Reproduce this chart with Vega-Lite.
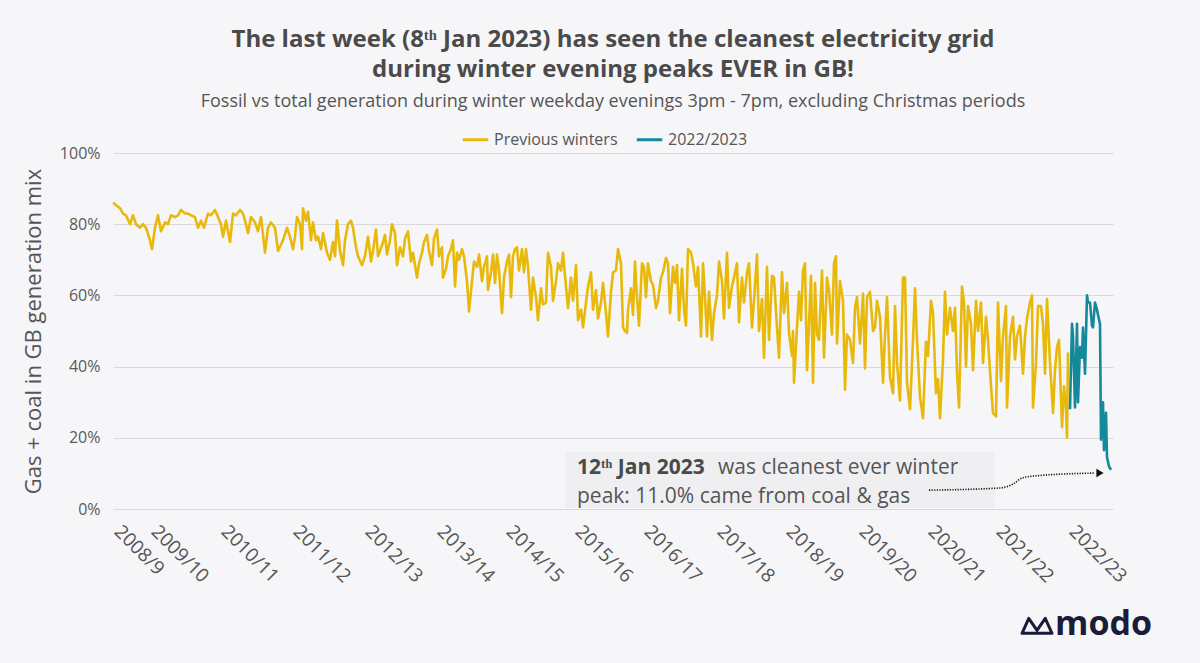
{
  "$schema": "https://vega.github.io/schema/vega-lite/v6.json",
  "width": 1000,
  "height": 356,
  "autosize": "none",
  "padding": {"left": 113, "top": 153, "right": 87, "bottom": 154},
  "background": "#f6f6f8",
  "title": {
    "text": ["The last week (8ᵗʰ Jan 2023) has seen the cleanest electricity grid", "during winter evening peaks EVER in GB!"],
    "subtitle": "Fossil vs total generation during winter weekday evenings 3pm - 7pm, excluding Christmas periods",
    "anchor": "middle",
    "font": "Open Sans",
    "fontSize": 24,
    "fontWeight": "bold",
    "color": "#4a4a4a",
    "lineHeight": 30,
    "subtitleFont": "Open Sans",
    "subtitleFontSize": 18,
    "subtitleColor": "#555555",
    "subtitlePadding": 11,
    "offset": 14
  },
  "datasets": {
    "gen": [
      {"d": 0, "v": 86, "s": "Previous winters"}, {"d": 7, "v": 84.5, "s": "Previous winters"}, {"d": 10, "v": 83, "s": "Previous winters"},
      {"d": 13, "v": 82.5, "s": "Previous winters"}, {"d": 17, "v": 80, "s": "Previous winters"}, {"d": 20, "v": 82.5, "s": "Previous winters"},
      {"d": 23, "v": 80, "s": "Previous winters"}, {"d": 27, "v": 79, "s": "Previous winters"}, {"d": 30, "v": 80, "s": "Previous winters"},
      {"d": 33, "v": 79, "s": "Previous winters"}, {"d": 37, "v": 75.5, "s": "Previous winters"}, {"d": 39, "v": 73, "s": "Previous winters"},
      {"d": 42, "v": 79, "s": "Previous winters"}, {"d": 45, "v": 82.5, "s": "Previous winters"}, {"d": 48, "v": 78, "s": "Previous winters"},
      {"d": 52, "v": 80.5, "s": "Previous winters"}, {"d": 55, "v": 80, "s": "Previous winters"}, {"d": 58, "v": 82.5, "s": "Previous winters"},
      {"d": 62, "v": 82, "s": "Previous winters"}, {"d": 65, "v": 82.5, "s": "Previous winters"}, {"d": 68, "v": 84, "s": "Previous winters"},
      {"d": 72, "v": 83, "s": "Previous winters"}, {"d": 75, "v": 83, "s": "Previous winters"}, {"d": 78, "v": 82.5, "s": "Previous winters"},
      {"d": 82, "v": 82, "s": "Previous winters"}, {"d": 85, "v": 79, "s": "Previous winters"}, {"d": 88, "v": 81, "s": "Previous winters"},
      {"d": 91, "v": 79, "s": "Previous winters"}, {"d": 95, "v": 83, "s": "Previous winters"}, {"d": 98, "v": 82.5, "s": "Previous winters"},
      {"d": 102, "v": 84, "s": "Previous winters"}, {"d": 105, "v": 82, "s": "Previous winters"}, {"d": 108, "v": 80, "s": "Previous winters"},
      {"d": 110, "v": 76.5, "s": "Previous winters"}, {"d": 113, "v": 81, "s": "Previous winters"}, {"d": 117, "v": 75, "s": "Previous winters"},
      {"d": 120, "v": 83, "s": "Previous winters"}, {"d": 123, "v": 82.5, "s": "Previous winters"}, {"d": 127, "v": 84, "s": "Previous winters"},
      {"d": 130, "v": 83, "s": "Previous winters"}, {"d": 133, "v": 80, "s": "Previous winters"}, {"d": 135, "v": 77.5, "s": "Previous winters"},
      {"d": 138, "v": 82, "s": "Previous winters"}, {"d": 142, "v": 80.5, "s": "Previous winters"}, {"d": 145, "v": 78, "s": "Previous winters"},
      {"d": 148, "v": 82, "s": "Previous winters"}, {"d": 152, "v": 72, "s": "Previous winters"}, {"d": 155, "v": 79, "s": "Previous winters"},
      {"d": 158, "v": 80.5, "s": "Previous winters"}, {"d": 162, "v": 79, "s": "Previous winters"}, {"d": 165, "v": 72.5, "s": "Previous winters"},
      {"d": 170, "v": 75.5, "s": "Previous winters"}, {"d": 174, "v": 79, "s": "Previous winters"}, {"d": 177, "v": 76.5, "s": "Previous winters"},
      {"d": 180, "v": 73, "s": "Previous winters"}, {"d": 182, "v": 76.5, "s": "Previous winters"}, {"d": 184, "v": 82, "s": "Previous winters"},
      {"d": 187, "v": 80, "s": "Previous winters"}, {"d": 189, "v": 73, "s": "Previous winters"}, {"d": 190, "v": 84.5, "s": "Previous winters"},
      {"d": 193, "v": 81, "s": "Previous winters"}, {"d": 195, "v": 83.5, "s": "Previous winters"}, {"d": 198, "v": 75.5, "s": "Previous winters"},
      {"d": 200, "v": 80.5, "s": "Previous winters"}, {"d": 203, "v": 75.5, "s": "Previous winters"}, {"d": 205, "v": 76.5, "s": "Previous winters"},
      {"d": 208, "v": 73, "s": "Previous winters"}, {"d": 210, "v": 77.5, "s": "Previous winters"}, {"d": 214, "v": 72, "s": "Previous winters"},
      {"d": 217, "v": 70, "s": "Previous winters"}, {"d": 220, "v": 75, "s": "Previous winters"}, {"d": 222, "v": 71, "s": "Previous winters"},
      {"d": 224, "v": 81, "s": "Previous winters"}, {"d": 227, "v": 72.5, "s": "Previous winters"}, {"d": 230, "v": 68.5, "s": "Previous winters"},
      {"d": 232, "v": 75.5, "s": "Previous winters"}, {"d": 235, "v": 80, "s": "Previous winters"}, {"d": 238, "v": 81, "s": "Previous winters"},
      {"d": 240, "v": 79, "s": "Previous winters"}, {"d": 243, "v": 73.5, "s": "Previous winters"}, {"d": 245, "v": 71, "s": "Previous winters"},
      {"d": 249, "v": 68.5, "s": "Previous winters"}, {"d": 252, "v": 71, "s": "Previous winters"}, {"d": 255, "v": 76.5, "s": "Previous winters"},
      {"d": 258, "v": 69.5, "s": "Previous winters"}, {"d": 260, "v": 72.5, "s": "Previous winters"}, {"d": 263, "v": 78.5, "s": "Previous winters"},
      {"d": 265, "v": 71, "s": "Previous winters"}, {"d": 269, "v": 74, "s": "Previous winters"}, {"d": 272, "v": 77, "s": "Previous winters"},
      {"d": 274, "v": 71.5, "s": "Previous winters"}, {"d": 277, "v": 75.5, "s": "Previous winters"}, {"d": 279, "v": 80, "s": "Previous winters"},
      {"d": 282, "v": 77.5, "s": "Previous winters"}, {"d": 284, "v": 68.5, "s": "Previous winters"}, {"d": 287, "v": 73.5, "s": "Previous winters"},
      {"d": 290, "v": 71, "s": "Previous winters"}, {"d": 292, "v": 76, "s": "Previous winters"}, {"d": 295, "v": 78, "s": "Previous winters"},
      {"d": 298, "v": 69.5, "s": "Previous winters"}, {"d": 300, "v": 72, "s": "Previous winters"}, {"d": 304, "v": 65, "s": "Previous winters"},
      {"d": 306, "v": 69, "s": "Previous winters"}, {"d": 309, "v": 72, "s": "Previous winters"}, {"d": 311, "v": 75, "s": "Previous winters"},
      {"d": 314, "v": 77, "s": "Previous winters"}, {"d": 316, "v": 72.5, "s": "Previous winters"}, {"d": 319, "v": 68.5, "s": "Previous winters"},
      {"d": 321, "v": 76, "s": "Previous winters"}, {"d": 324, "v": 78.5, "s": "Previous winters"}, {"d": 326, "v": 71, "s": "Previous winters"},
      {"d": 329, "v": 73.5, "s": "Previous winters"}, {"d": 330, "v": 65, "s": "Previous winters"}, {"d": 333, "v": 67.5, "s": "Previous winters"},
      {"d": 335, "v": 71, "s": "Previous winters"}, {"d": 338, "v": 73, "s": "Previous winters"}, {"d": 340, "v": 75.5, "s": "Previous winters"},
      {"d": 342, "v": 62.5, "s": "Previous winters"}, {"d": 344, "v": 72, "s": "Previous winters"}, {"d": 346, "v": 70, "s": "Previous winters"},
      {"d": 349, "v": 73, "s": "Previous winters"}, {"d": 351, "v": 71, "s": "Previous winters"}, {"d": 354, "v": 64, "s": "Previous winters"},
      {"d": 356, "v": 55.5, "s": "Previous winters"}, {"d": 359, "v": 64, "s": "Previous winters"}, {"d": 361, "v": 69.5, "s": "Previous winters"},
      {"d": 364, "v": 68, "s": "Previous winters"}, {"d": 366, "v": 71.5, "s": "Previous winters"}, {"d": 369, "v": 64, "s": "Previous winters"},
      {"d": 371, "v": 68, "s": "Previous winters"}, {"d": 374, "v": 71, "s": "Previous winters"}, {"d": 375, "v": 61.5, "s": "Previous winters"},
      {"d": 378, "v": 66.5, "s": "Previous winters"}, {"d": 380, "v": 71.5, "s": "Previous winters"}, {"d": 382, "v": 63.5, "s": "Previous winters"},
      {"d": 384, "v": 71.5, "s": "Previous winters"}, {"d": 386, "v": 67, "s": "Previous winters"}, {"d": 389, "v": 55, "s": "Previous winters"},
      {"d": 391, "v": 65, "s": "Previous winters"}, {"d": 394, "v": 69.5, "s": "Previous winters"}, {"d": 396, "v": 71.5, "s": "Previous winters"},
      {"d": 398, "v": 59.5, "s": "Previous winters"}, {"d": 400, "v": 71, "s": "Previous winters"}, {"d": 402, "v": 73, "s": "Previous winters"},
      {"d": 404, "v": 73.5, "s": "Previous winters"}, {"d": 406, "v": 67, "s": "Previous winters"}, {"d": 409, "v": 73, "s": "Previous winters"},
      {"d": 411, "v": 66.5, "s": "Previous winters"}, {"d": 413, "v": 73, "s": "Previous winters"}, {"d": 415, "v": 68, "s": "Previous winters"},
      {"d": 418, "v": 56, "s": "Previous winters"}, {"d": 420, "v": 65, "s": "Previous winters"}, {"d": 423, "v": 59.5, "s": "Previous winters"},
      {"d": 425, "v": 53, "s": "Previous winters"}, {"d": 428, "v": 62, "s": "Previous winters"}, {"d": 430, "v": 57.5, "s": "Previous winters"},
      {"d": 433, "v": 58, "s": "Previous winters"}, {"d": 435, "v": 72, "s": "Previous winters"}, {"d": 438, "v": 68, "s": "Previous winters"},
      {"d": 440, "v": 58.5, "s": "Previous winters"}, {"d": 443, "v": 64, "s": "Previous winters"}, {"d": 445, "v": 69, "s": "Previous winters"},
      {"d": 448, "v": 67, "s": "Previous winters"}, {"d": 450, "v": 72, "s": "Previous winters"}, {"d": 453, "v": 62.5, "s": "Previous winters"},
      {"d": 455, "v": 56.5, "s": "Previous winters"}, {"d": 458, "v": 65, "s": "Previous winters"}, {"d": 460, "v": 58.5, "s": "Previous winters"},
      {"d": 463, "v": 68.5, "s": "Previous winters"}, {"d": 465, "v": 53, "s": "Previous winters"}, {"d": 468, "v": 56, "s": "Previous winters"},
      {"d": 470, "v": 51, "s": "Previous winters"}, {"d": 473, "v": 58, "s": "Previous winters"}, {"d": 475, "v": 62.5, "s": "Previous winters"},
      {"d": 478, "v": 66.5, "s": "Previous winters"}, {"d": 480, "v": 56, "s": "Previous winters"}, {"d": 483, "v": 61.5, "s": "Previous winters"},
      {"d": 485, "v": 53.5, "s": "Previous winters"}, {"d": 488, "v": 58, "s": "Previous winters"}, {"d": 490, "v": 63.5, "s": "Previous winters"},
      {"d": 493, "v": 55, "s": "Previous winters"}, {"d": 495, "v": 48.5, "s": "Previous winters"}, {"d": 498, "v": 61, "s": "Previous winters"},
      {"d": 500, "v": 66.5, "s": "Previous winters"}, {"d": 503, "v": 67, "s": "Previous winters"}, {"d": 505, "v": 73, "s": "Previous winters"},
      {"d": 508, "v": 69, "s": "Previous winters"}, {"d": 510, "v": 51, "s": "Previous winters"}, {"d": 512, "v": 50, "s": "Previous winters"},
      {"d": 514, "v": 49.5, "s": "Previous winters"}, {"d": 515, "v": 56, "s": "Previous winters"}, {"d": 518, "v": 62, "s": "Previous winters"},
      {"d": 520, "v": 54.5, "s": "Previous winters"}, {"d": 522, "v": 69.5, "s": "Previous winters"}, {"d": 524, "v": 59.5, "s": "Previous winters"},
      {"d": 526, "v": 51.5, "s": "Previous winters"}, {"d": 529, "v": 69, "s": "Previous winters"}, {"d": 531, "v": 68, "s": "Previous winters"},
      {"d": 533, "v": 59.5, "s": "Previous winters"}, {"d": 535, "v": 69, "s": "Previous winters"}, {"d": 538, "v": 64, "s": "Previous winters"},
      {"d": 540, "v": 63, "s": "Previous winters"}, {"d": 543, "v": 56.5, "s": "Previous winters"}, {"d": 545, "v": 58.5, "s": "Previous winters"},
      {"d": 548, "v": 65, "s": "Previous winters"}, {"d": 550, "v": 66.5, "s": "Previous winters"}, {"d": 553, "v": 70.5, "s": "Previous winters"},
      {"d": 555, "v": 69, "s": "Previous winters"}, {"d": 557, "v": 55, "s": "Previous winters"}, {"d": 560, "v": 68, "s": "Previous winters"},
      {"d": 562, "v": 63.5, "s": "Previous winters"}, {"d": 564, "v": 68.5, "s": "Previous winters"}, {"d": 566, "v": 53, "s": "Previous winters"},
      {"d": 569, "v": 67.5, "s": "Previous winters"}, {"d": 571, "v": 56, "s": "Previous winters"}, {"d": 573, "v": 51.5, "s": "Previous winters"},
      {"d": 575, "v": 73, "s": "Previous winters"}, {"d": 578, "v": 72, "s": "Previous winters"}, {"d": 580, "v": 69, "s": "Previous winters"},
      {"d": 583, "v": 62.5, "s": "Previous winters"}, {"d": 585, "v": 68, "s": "Previous winters"}, {"d": 588, "v": 48.5, "s": "Previous winters"},
      {"d": 590, "v": 69, "s": "Previous winters"}, {"d": 592, "v": 59.5, "s": "Previous winters"}, {"d": 594, "v": 48.5, "s": "Previous winters"},
      {"d": 596, "v": 61, "s": "Previous winters"}, {"d": 599, "v": 47.5, "s": "Previous winters"}, {"d": 601, "v": 55, "s": "Previous winters"},
      {"d": 604, "v": 60, "s": "Previous winters"}, {"d": 606, "v": 69.5, "s": "Previous winters"}, {"d": 609, "v": 64, "s": "Previous winters"},
      {"d": 611, "v": 53.5, "s": "Previous winters"}, {"d": 614, "v": 72, "s": "Previous winters"}, {"d": 616, "v": 56.5, "s": "Previous winters"},
      {"d": 619, "v": 62.5, "s": "Previous winters"}, {"d": 621, "v": 65, "s": "Previous winters"}, {"d": 624, "v": 69, "s": "Previous winters"},
      {"d": 626, "v": 52.5, "s": "Previous winters"}, {"d": 629, "v": 65, "s": "Previous winters"}, {"d": 631, "v": 58, "s": "Previous winters"},
      {"d": 634, "v": 66.5, "s": "Previous winters"}, {"d": 636, "v": 69, "s": "Previous winters"}, {"d": 639, "v": 51, "s": "Previous winters"},
      {"d": 641, "v": 58.5, "s": "Previous winters"}, {"d": 644, "v": 71.5, "s": "Previous winters"}, {"d": 646, "v": 50, "s": "Previous winters"},
      {"d": 649, "v": 59, "s": "Previous winters"}, {"d": 651, "v": 42.5, "s": "Previous winters"}, {"d": 654, "v": 68, "s": "Previous winters"},
      {"d": 656, "v": 47.5, "s": "Previous winters"}, {"d": 659, "v": 65.5, "s": "Previous winters"}, {"d": 661, "v": 65, "s": "Previous winters"},
      {"d": 664, "v": 51, "s": "Previous winters"}, {"d": 666, "v": 42.5, "s": "Previous winters"}, {"d": 669, "v": 66.5, "s": "Previous winters"},
      {"d": 671, "v": 55, "s": "Previous winters"}, {"d": 674, "v": 63.5, "s": "Previous winters"}, {"d": 676, "v": 49.5, "s": "Previous winters"},
      {"d": 679, "v": 43, "s": "Previous winters"}, {"d": 680, "v": 50, "s": "Previous winters"}, {"d": 681, "v": 35.5, "s": "Previous winters"},
      {"d": 684, "v": 51, "s": "Previous winters"}, {"d": 686, "v": 61, "s": "Previous winters"}, {"d": 688, "v": 53, "s": "Previous winters"},
      {"d": 690, "v": 67, "s": "Previous winters"}, {"d": 692, "v": 69, "s": "Previous winters"}, {"d": 694, "v": 39, "s": "Previous winters"},
      {"d": 696, "v": 52, "s": "Previous winters"}, {"d": 698, "v": 65.5, "s": "Previous winters"}, {"d": 700, "v": 35.5, "s": "Previous winters"},
      {"d": 702, "v": 63.5, "s": "Previous winters"}, {"d": 704, "v": 49, "s": "Previous winters"}, {"d": 706, "v": 47.5, "s": "Previous winters"},
      {"d": 709, "v": 67, "s": "Previous winters"}, {"d": 711, "v": 42.5, "s": "Previous winters"}, {"d": 714, "v": 65, "s": "Previous winters"},
      {"d": 716, "v": 61.5, "s": "Previous winters"}, {"d": 719, "v": 49, "s": "Previous winters"}, {"d": 721, "v": 69, "s": "Previous winters"},
      {"d": 723, "v": 71, "s": "Previous winters"}, {"d": 724, "v": 46.5, "s": "Previous winters"}, {"d": 727, "v": 64, "s": "Previous winters"},
      {"d": 730, "v": 58.5, "s": "Previous winters"}, {"d": 732, "v": 33.5, "s": "Previous winters"}, {"d": 734, "v": 49, "s": "Previous winters"},
      {"d": 737, "v": 47.5, "s": "Previous winters"}, {"d": 740, "v": 41, "s": "Previous winters"}, {"d": 742, "v": 56.5, "s": "Previous winters"},
      {"d": 744, "v": 59.5, "s": "Previous winters"}, {"d": 747, "v": 46.5, "s": "Previous winters"}, {"d": 750, "v": 60.5, "s": "Previous winters"},
      {"d": 752, "v": 39.5, "s": "Previous winters"}, {"d": 754, "v": 59.5, "s": "Previous winters"}, {"d": 757, "v": 61, "s": "Previous winters"},
      {"d": 760, "v": 50, "s": "Previous winters"}, {"d": 762, "v": 51, "s": "Previous winters"}, {"d": 764, "v": 58.5, "s": "Previous winters"},
      {"d": 767, "v": 54, "s": "Previous winters"}, {"d": 770, "v": 35.5, "s": "Previous winters"}, {"d": 772, "v": 49, "s": "Previous winters"},
      {"d": 774, "v": 59.5, "s": "Previous winters"}, {"d": 777, "v": 37, "s": "Previous winters"}, {"d": 780, "v": 32.5, "s": "Previous winters"},
      {"d": 782, "v": 57, "s": "Previous winters"}, {"d": 784, "v": 41, "s": "Previous winters"}, {"d": 787, "v": 30.5, "s": "Previous winters"},
      {"d": 790, "v": 65, "s": "Previous winters"}, {"d": 792, "v": 65, "s": "Previous winters"}, {"d": 794, "v": 35.5, "s": "Previous winters"},
      {"d": 797, "v": 28, "s": "Previous winters"}, {"d": 800, "v": 47.5, "s": "Previous winters"}, {"d": 802, "v": 62, "s": "Previous winters"},
      {"d": 804, "v": 47.5, "s": "Previous winters"}, {"d": 807, "v": 31.5, "s": "Previous winters"}, {"d": 810, "v": 25.5, "s": "Previous winters"},
      {"d": 813, "v": 47, "s": "Previous winters"}, {"d": 815, "v": 43, "s": "Previous winters"}, {"d": 818, "v": 58.5, "s": "Previous winters"},
      {"d": 820, "v": 55, "s": "Previous winters"}, {"d": 823, "v": 32.5, "s": "Previous winters"}, {"d": 825, "v": 36.5, "s": "Previous winters"},
      {"d": 827, "v": 25.5, "s": "Previous winters"}, {"d": 830, "v": 42, "s": "Previous winters"}, {"d": 832, "v": 61, "s": "Previous winters"},
      {"d": 834, "v": 49, "s": "Previous winters"}, {"d": 837, "v": 56.5, "s": "Previous winters"}, {"d": 840, "v": 50, "s": "Previous winters"},
      {"d": 842, "v": 56.5, "s": "Previous winters"}, {"d": 844, "v": 38.5, "s": "Previous winters"}, {"d": 846, "v": 28.5, "s": "Previous winters"},
      {"d": 849, "v": 62.5, "s": "Previous winters"}, {"d": 851, "v": 58, "s": "Previous winters"}, {"d": 853, "v": 40, "s": "Previous winters"},
      {"d": 855, "v": 57, "s": "Previous winters"}, {"d": 858, "v": 52, "s": "Previous winters"}, {"d": 860, "v": 39, "s": "Previous winters"},
      {"d": 863, "v": 58.5, "s": "Previous winters"}, {"d": 865, "v": 50, "s": "Previous winters"}, {"d": 868, "v": 58, "s": "Previous winters"},
      {"d": 870, "v": 41, "s": "Previous winters"}, {"d": 873, "v": 54, "s": "Previous winters"}, {"d": 875, "v": 47.5, "s": "Previous winters"},
      {"d": 878, "v": 34.5, "s": "Previous winters"}, {"d": 880, "v": 27, "s": "Previous winters"}, {"d": 883, "v": 26, "s": "Previous winters"},
      {"d": 885, "v": 58, "s": "Previous winters"}, {"d": 888, "v": 36, "s": "Previous winters"}, {"d": 890, "v": 48.5, "s": "Previous winters"},
      {"d": 893, "v": 57, "s": "Previous winters"}, {"d": 894, "v": 28.5, "s": "Previous winters"}, {"d": 897, "v": 48.5, "s": "Previous winters"},
      {"d": 900, "v": 54, "s": "Previous winters"}, {"d": 902, "v": 42, "s": "Previous winters"}, {"d": 904, "v": 48.5, "s": "Previous winters"},
      {"d": 907, "v": 51.5, "s": "Previous winters"}, {"d": 910, "v": 38, "s": "Previous winters"}, {"d": 912, "v": 48.5, "s": "Previous winters"},
      {"d": 914, "v": 53.5, "s": "Previous winters"}, {"d": 917, "v": 58, "s": "Previous winters"}, {"d": 919, "v": 60, "s": "Previous winters"},
      {"d": 920, "v": 28.5, "s": "Previous winters"}, {"d": 923, "v": 41, "s": "Previous winters"}, {"d": 925, "v": 57, "s": "Previous winters"},
      {"d": 928, "v": 57, "s": "Previous winters"}, {"d": 930, "v": 52, "s": "Previous winters"}, {"d": 932, "v": 38, "s": "Previous winters"},
      {"d": 934, "v": 59, "s": "Previous winters"}, {"d": 937, "v": 41, "s": "Previous winters"}, {"d": 940, "v": 27, "s": "Previous winters"},
      {"d": 942, "v": 39, "s": "Previous winters"}, {"d": 944, "v": 45.5, "s": "Previous winters"}, {"d": 946, "v": 47.5, "s": "Previous winters"},
      {"d": 949, "v": 23, "s": "Previous winters"}, {"d": 951, "v": 34.5, "s": "Previous winters"}, {"d": 953, "v": 28, "s": "Previous winters"},
      {"d": 954, "v": 20, "s": "Previous winters"}, {"d": 955, "v": 44, "s": "Previous winters"},
      {"d": 957, "v": 28, "s": "2022/2023"}, {"d": 959, "v": 52, "s": "2022/2023"}, {"d": 960, "v": 48.5, "s": "2022/2023"},
      {"d": 962, "v": 28.5, "s": "2022/2023"}, {"d": 964, "v": 52, "s": "2022/2023"}, {"d": 965, "v": 30, "s": "2022/2023"},
      {"d": 967, "v": 45.5, "s": "2022/2023"}, {"d": 969, "v": 42.5, "s": "2022/2023"}, {"d": 970, "v": 51, "s": "2022/2023"},
      {"d": 972, "v": 38, "s": "2022/2023"}, {"d": 974, "v": 60, "s": "2022/2023"}, {"d": 975, "v": 58, "s": "2022/2023"},
      {"d": 977, "v": 58, "s": "2022/2023"}, {"d": 979, "v": 51.5, "s": "2022/2023"}, {"d": 980, "v": 51, "s": "2022/2023"},
      {"d": 982, "v": 58, "s": "2022/2023"}, {"d": 984, "v": 56, "s": "2022/2023"}, {"d": 985, "v": 54.5, "s": "2022/2023"},
      {"d": 987, "v": 52, "s": "2022/2023"}, {"d": 988, "v": 19.5, "s": "2022/2023"}, {"d": 990, "v": 30, "s": "2022/2023"},
      {"d": 991, "v": 16.5, "s": "2022/2023"}, {"d": 993, "v": 27, "s": "2022/2023"}, {"d": 994, "v": 14.5, "s": "2022/2023"},
      {"d": 996, "v": 12, "s": "2022/2023"}, {"d": 998, "v": 11, "s": "2022/2023"}
    ],
    "box": [{"d": 452, "d2": 882, "v": 0.3, "v2": 16}],
    "arrow": [
      {"d": 816, "v": 5.3}, {"d": 887, "v": 5.9}, {"d": 900, "v": 7.0}, {"d": 909, "v": 8.7},
      {"d": 922, "v": 9.3}, {"d": 982, "v": 10.1}
    ],
    "tip": [{"d": 987, "v": 10.1}],
    "bold": [{"d": 464, "v": 9.8, "t": "12ᵗʰ Jan 2023"}],
    "plain": [
      {"d": 605, "v": 9.8, "t": "was cleanest ever winter"},
      {"d": 464, "v": 1.7, "t": "peak: 11.0% came from coal & gas"}
    ],
    "icon": [{"d": 924, "v": -32.6}],
    "logo": [{"d": 942, "v": -32.6, "t": "modo"}]
  },
  "layer": [
    {
      "data": {"name": "box"},
      "mark": {"type": "rect", "color": "#efeff2"},
      "encoding": {
        "x": {"field": "d", "type": "quantitative"},
        "x2": {"field": "d2"},
        "y": {"field": "v", "type": "quantitative"},
        "y2": {"field": "v2"}
      }
    },
    {
      "data": {"name": "gen"},
      "mark": {"type": "line", "strokeWidth": 2.6, "strokeJoin": "round"},
      "encoding": {
        "x": {
          "field": "d",
          "type": "quantitative",
          "scale": {"domain": [0, 1000], "nice": false, "zero": false},
          "axis": {
            "title": null,
            "grid": false,
            "domain": false,
            "ticks": false,
            "values": [4, 41, 111, 183, 255, 327, 396, 465, 534, 607, 676, 749, 818, 886, 959],
            "labelExpr": "['2008/9','2009/10','2010/11','2011/12','2012/13','2013/14','2014/15','2015/16','2016/17','2017/18','2018/19','2019/20','2020/21','2021/22','2022/23'][indexof([4,41,111,183,255,327,396,465,534,607,676,749,818,886,959], datum.value)]",
            "labelAngle": 45,
            "labelAlign": "left",
            "labelBaseline": "middle",
            "labelPadding": 19,
            "labelFont": "Open Sans",
            "labelFontSize": 19,
            "labelColor": "#555555",
            "labelOverlap": false,
            "labelBound": false,
            "labelFlush": false
          }
        },
        "y": {
          "field": "v",
          "type": "quantitative",
          "scale": {"domain": [0, 100], "nice": false},
          "axis": {
            "title": "Gas + coal in GB generation mix",
            "titleFont": "Open Sans",
            "titleFontSize": 22,
            "titleFontWeight": "normal",
            "titleColor": "#555555",
            "titlePadding": 14,
            "values": [0, 20, 40, 60, 80, 100],
            "labelExpr": "datum.value + '%'",
            "labelFont": "Open Sans",
            "labelFontSize": 16,
            "labelColor": "#5a5a5a",
            "labelPadding": 13,
            "domain": false,
            "ticks": false,
            "gridColor": "#dadadc",
            "gridWidth": 1.2
          }
        },
        "color": {
          "field": "s",
          "type": "nominal",
          "scale": {"domain": ["Previous winters", "2022/2023"], "range": ["#e8b90b", "#14899b"]},
          "legend": {
            "title": null,
            "orient": "none",
            "direction": "horizontal",
            "legendX": 348,
            "legendY": -28,
            "symbolType": "stroke",
            "symbolStrokeWidth": 3,
            "symbolSize": 650,
            "labelFont": "Open Sans",
            "labelFontSize": 16,
            "labelColor": "#555555",
            "columnPadding": 12,
            "labelOffset": 4
          }
        }
      }
    },
    {
      "data": {"name": "arrow"},
      "mark": {"type": "line", "color": "#111111", "strokeWidth": 1.6, "strokeDash": [1.2, 1.4], "interpolate": "monotone"},
      "encoding": {
        "x": {"field": "d", "type": "quantitative"},
        "y": {"field": "v", "type": "quantitative"}
      }
    },
    {
      "data": {"name": "tip"},
      "mark": {"type": "point", "shape": "triangle-right", "filled": true, "color": "#111111", "size": 70, "opacity": 1},
      "encoding": {
        "x": {"field": "d", "type": "quantitative"},
        "y": {"field": "v", "type": "quantitative"}
      }
    },
    {
      "data": {"name": "bold"},
      "mark": {"type": "text", "align": "left", "baseline": "alphabetic", "font": "Open Sans", "fontSize": 21, "fontWeight": "bold", "color": "#4a4a4a"},
      "encoding": {
        "x": {"field": "d", "type": "quantitative"},
        "y": {"field": "v", "type": "quantitative"},
        "text": {"field": "t"}
      }
    },
    {
      "data": {"name": "plain"},
      "mark": {"type": "text", "align": "left", "baseline": "alphabetic", "font": "Open Sans", "fontSize": 21, "color": "#555555"},
      "encoding": {
        "x": {"field": "d", "type": "quantitative"},
        "y": {"field": "v", "type": "quantitative"},
        "text": {"field": "t"}
      }
    },
    {
      "data": {"name": "icon"},
      "mark": {"type": "point", "shape": "M -1 0.55 L -0.55 -0.45 L 0 0.35 L 0.55 -0.45 L 1 0.55 Z", "filled": false, "color": "#1b1b3a", "strokeWidth": 3, "size": 900, "opacity": 1, "strokeJoin": "round"},
      "encoding": {
        "x": {"field": "d", "type": "quantitative"},
        "y": {"field": "v", "type": "quantitative"}
      }
    },
    {
      "data": {"name": "logo"},
      "mark": {"type": "text", "align": "left", "baseline": "middle", "font": "Open Sans", "fontSize": 34, "fontWeight": "bold", "color": "#1b1b3a"},
      "encoding": {
        "x": {"field": "d", "type": "quantitative"},
        "y": {"field": "v", "type": "quantitative"},
        "text": {"field": "t"}
      }
    }
  ],
  "config": {
    "view": {"stroke": null},
    "font": "Open Sans"
  }
}
